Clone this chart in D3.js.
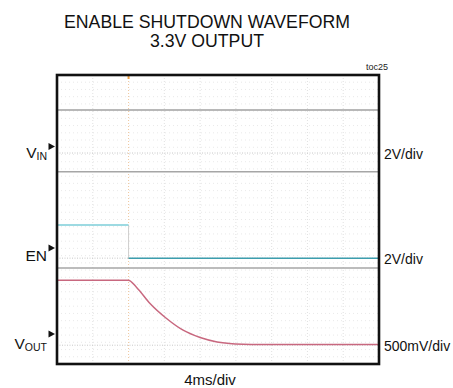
<!DOCTYPE html>
<html>
<head>
<meta charset="utf-8">
<script src="https://cdn.jsdelivr.net/npm/d3@7"></script>
<style>
  html, body { margin: 0; padding: 0; background: #fff; }
  svg { display: block; font-family: "Liberation Sans", Arial, sans-serif; }
</style>
</head>
<body>
<svg id="chart" width="453" height="388"></svg>
<script>
// ---- data ----
const titleLines = ["ENABLE SHUTDOWN WAVEFORM", "3.3V OUTPUT"];
const figureTag = "toc25";
const timeLabel = "4ms/div";
const msPerDiv = 4;
const timeDivs = 9;
const voltDivs = 8;

// enable edge time (ms from left of screen)
const enEdgeMs = 8;

// VIN trace (V)
const vinTime = [0, 36];
const vinVolts = [2.38, 2.38];

// EN trace (V)
const enTime = [0, 8, 8, 36];
const enVolts = [1.83, 1.83, 0, 0];

// VOUT discharge after enable goes low (V)
const voutTime = [0, 4, 7.97, 8.9, 10.4, 12.25, 14.1, 16.0, 17.9, 19.3, 20.8, 22.7, 26, 30, 36];
const voutVolts = [0.90, 0.90, 0.90, 0.80, 0.578, 0.37, 0.208, 0.107, 0.046, 0.024, 0.014, 0.01, 0.01, 0.01, 0.01];

// extra flat reference traces, in screen divisions from centre
const refLevels = [1.32, -1.34];

// channel labels and scales
const channelNames = ["VIN", "EN", "VOUT"];
const channelScales = ["2V/div", "2V/div", "500mV/div"];

// ---- layout ----
const svg = d3.select("#chart");
const box = { left: 57, right: 379, top: 75, bottom: 364 };

const x = d3.scaleLinear().domain([0, timeDivs * msPerDiv]).range([box.left, box.right]);
const yDiv = d3.scaleLinear().domain([-voltDivs / 2, voltDivs / 2]).range([box.bottom, box.top]);

// channel screen setup: ground position (div), volts per division, marker position (div)
const chanSetup = {
  VIN:  { ground: 1.84,  vpd: 2,   marker: 2.02,  labelDy: 11.5, main: "V", sub: "IN" },
  EN:   { ground: -1.07, vpd: 2,   marker: -0.79, labelDy: 12.7, main: "EN", sub: "" },
  VOUT: { ground: -3.48, vpd: 0.5, marker: -3.17, labelDy: 15.3, main: "V", sub: "OUT" }
};
const yVolt = (name, v) => yDiv(chanSetup[name].ground + v / chanSetup[name].vpd);

// ---- title ----
svg.append("g").selectAll("text").data(titleLines).join("text")
  .attr("x", 207).attr("y", (d, i) => 28 + i * 19)
  .attr("text-anchor", "middle")
  .attr("font-size", 17.7).attr("fill", "#111")
  .text(d => d);

svg.append("text").attr("x", 388).attr("y", 70).attr("text-anchor", "end")
  .attr("font-size", 9).attr("fill", "#222").text(figureTag);

// ---- grid ----
const grid = svg.append("g");
const minorY = d3.range(-voltDivs / 2, voltDivs / 2 + 0.001, 0.2);
grid.selectAll("line.minor").data(minorY).join("line")
  .attr("x1", box.left).attr("x2", box.right)
  .attr("y1", d => yDiv(d)).attr("y2", d => yDiv(d))
  .attr("stroke", "#e3e3e3").attr("stroke-width", 0.8)
  .attr("stroke-dasharray", "1,3");
grid.selectAll("line.vx").data(d3.range(1, timeDivs)).join("line")
  .attr("x1", d => x(d * msPerDiv)).attr("x2", d => x(d * msPerDiv))
  .attr("y1", box.top).attr("y2", box.bottom)
  .attr("stroke", "#dedede").attr("stroke-width", 0.9)
  .attr("stroke-dasharray", "1,2");

// channel ground lines
grid.selectAll("line.gnd").data(channelNames).join("line")
  .attr("x1", box.left).attr("x2", box.right)
  .attr("y1", d => yDiv(chanSetup[d].ground)).attr("y2", d => yDiv(chanSetup[d].ground))
  .attr("stroke", "#c8c8c8").attr("stroke-width", 1)
  .attr("stroke-dasharray", "1,1.5");

// trigger position
grid.append("line")
  .attr("x1", x(enEdgeMs)).attr("x2", x(enEdgeMs))
  .attr("y1", box.top).attr("y2", box.bottom)
  .attr("stroke", "#f2c9a0").attr("stroke-width", 1)
  .attr("stroke-dasharray", "1,2");
svg.append("line")
  .attr("x1", x(enEdgeMs)).attr("x2", x(enEdgeMs))
  .attr("y1", box.top).attr("y2", box.top + 4)
  .attr("stroke", "#f0a040").attr("stroke-width", 2);

// ---- traces ----
const traces = svg.append("g").attr("fill", "none");

traces.selectAll("line.ref").data(refLevels).join("line")
  .attr("x1", box.left).attr("x2", box.right)
  .attr("y1", d => yDiv(d)).attr("y2", d => yDiv(d))
  .attr("stroke", "#a6a6a6").attr("stroke-width", 1.5);

const vinLine = d3.line().x(d => x(d[0])).y(d => yVolt("VIN", d[1]));
traces.append("path").datum(d3.zip(vinTime, vinVolts))
  .attr("d", vinLine).attr("stroke", "#a0a0a0").attr("stroke-width", 1.5);

// EN: high and low levels, with the fast edge drawn faintly
const enPts = d3.zip(enTime, enVolts);
const enLine = d3.line().x(d => x(d[0])).y(d => yVolt("EN", d[1]));
traces.append("path").datum(enPts.slice(1, 3))
  .attr("d", enLine).attr("stroke", "#cfcfcf").attr("stroke-width", 1);
traces.append("path").datum(enPts.slice(0, 2))
  .attr("d", enLine).attr("stroke", "#7cced8").attr("stroke-width", 1.5);
traces.append("path").datum(enPts.slice(2))
  .attr("d", enLine).attr("stroke", "#3d9eae").attr("stroke-width", 1.5);

const voutLine = d3.line().curve(d3.curveMonotoneX)
  .x(d => x(d[0])).y(d => yVolt("VOUT", d[1]));
traces.append("path").datum(d3.zip(voutTime, voutVolts))
  .attr("d", voutLine).attr("stroke", "#c8687f").attr("stroke-width", 1.5);

// ---- frame ----
svg.append("rect")
  .attr("x", box.left).attr("y", box.top)
  .attr("width", box.right - box.left).attr("height", box.bottom - box.top)
  .attr("fill", "none").attr("stroke", "#111").attr("stroke-width", 2.6);

// ---- channel labels ----
const lab = svg.append("g").selectAll("g").data(channelNames).join("g");
lab.append("path")
  .attr("d", d => {
    const yy = yDiv(chanSetup[d].marker);
    return `M48.5,${yy - 3.5}L55,${yy}L48.5,${yy + 3.5}Z`;
  })
  .attr("fill", "#111");
const lt = lab.append("text")
  .attr("x", 47)
  .attr("y", d => yDiv(chanSetup[d].marker) + chanSetup[d].labelDy)
  .attr("text-anchor", "end").attr("fill", "#111");
lt.append("tspan").attr("font-size", 15.5).text(d => chanSetup[d].main);
lt.filter(d => chanSetup[d].sub).append("tspan")
  .attr("font-size", 10.5).attr("dy", 2).text(d => chanSetup[d].sub);

svg.append("g").selectAll("text").data(channelNames).join("text")
  .attr("x", 384)
  .attr("y", d => yDiv(chanSetup[d].ground) + 5.5)
  .attr("font-size", 14).attr("fill", "#111")
  .text((d, i) => channelScales[i]);

svg.append("text").attr("x", 210).attr("y", 385).attr("text-anchor", "middle")
  .attr("font-size", 15).attr("fill", "#111").text(timeLabel);
</script>
</body>
</html>
